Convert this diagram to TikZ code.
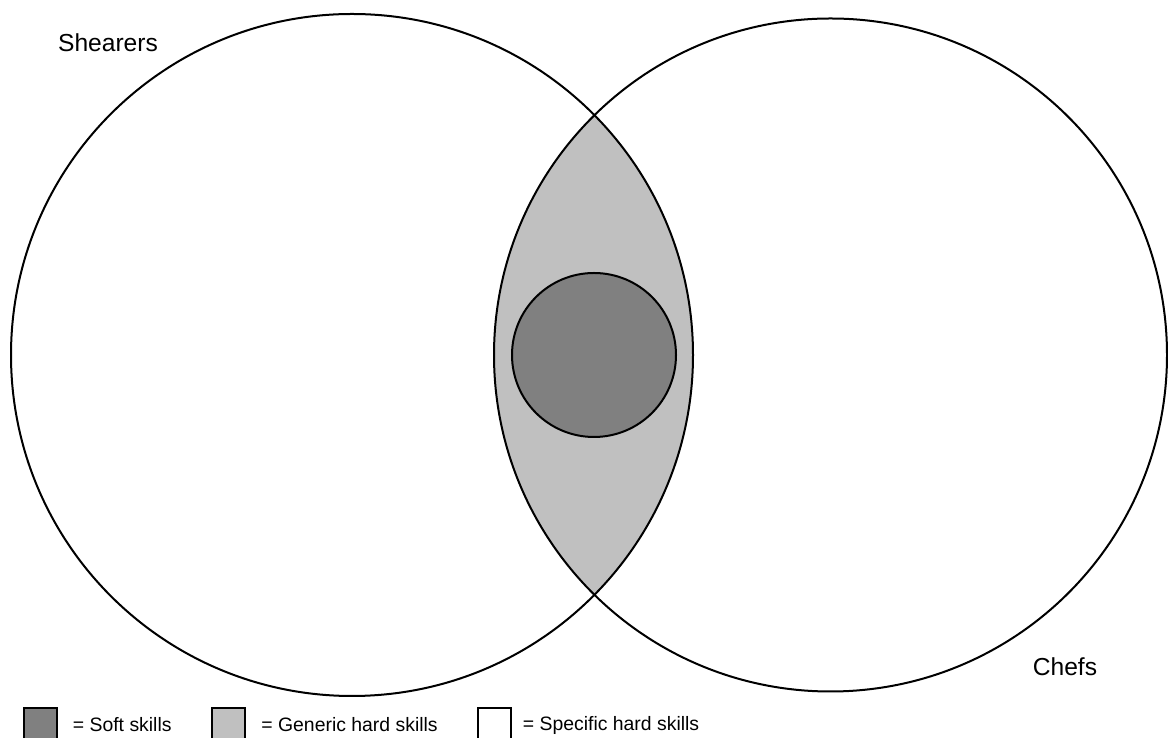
\documentclass[tikz,border=0pt]{standalone}
\usepackage{fontspec}
\setmainfont{Liberation Sans}
\usetikzlibrary{positioning}
\definecolor{cSoft}{HTML}{808080}
\definecolor{cGeneric}{HTML}{C0C0C0}
\tikzset{
  ring/.style   ={draw=black, line width=1pt},
  group/.style  ={font=\fontsize{12.3}{14}\selectfont, inner sep=0pt},
  key/.style    ={rectangle, draw=black, line width=1pt, minimum size=16.5pt, inner sep=0pt},
  keytext/.style={font=\fontsize{9.7}{11}\selectfont, inner sep=0pt, anchor=west},
}
\begin{document}
\begin{tikzpicture}[x=0.5pt,y=0.5pt]
  \useasboundingbox (0,0) rectangle (1168,738);
  \coordinate (cS) at (352,383);
  \coordinate (cC) at (830.5,383);
  \coordinate (cM) at (594,383);
  % overlap of the two groups
  \begin{scope}
    \clip (cS) circle[radius=341];
    \fill[cGeneric] (cC) circle[radius=336.5];
  \end{scope}
  \draw[ring] (cS) circle[radius=341];
  \draw[ring] (cC) circle[radius=336.5];
  \draw[ring, fill=cSoft] (cM) circle[radius=82];
  \node[group] (shearers) at (108,695) {Shearers};
  \node[group] (chefs) at (1065,71) {Chefs};
  % legend
  \node[key, fill=cSoft] (ksoft) at (40,13) {};
  \node[keytext, right=15 of ksoft] (tsoft) {= Soft skills};
  \node[key, fill=cGeneric] (kgen) at (228.5,13) {};
  \node[keytext, right=15 of kgen] (tgen) {= Generic hard skills};
  \node[key, fill=white] (kspec) at (494,13) {};
  \node[keytext, right=11 of kspec] (tspec) {= Specific hard skills};
\end{tikzpicture}
\end{document}
